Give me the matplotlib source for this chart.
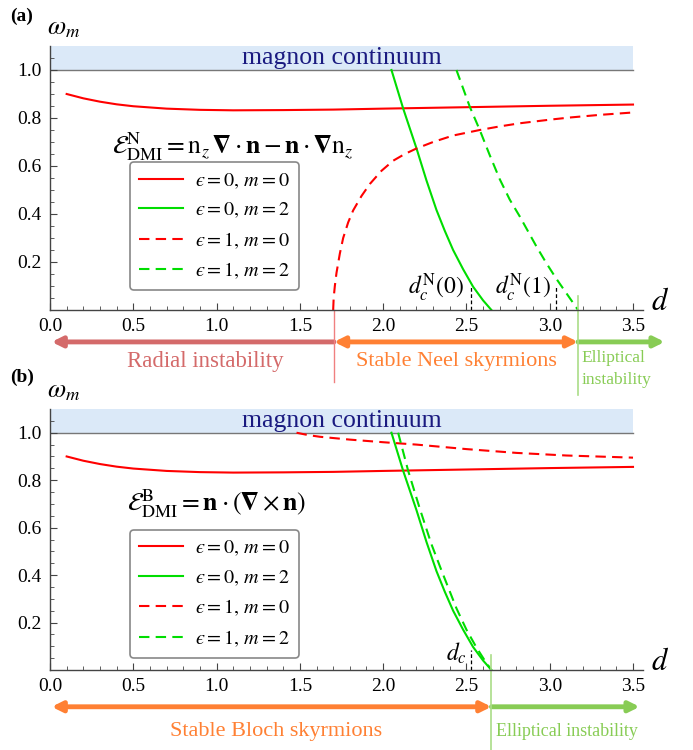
import numpy as np
import matplotlib
matplotlib.use('Agg')
import matplotlib.pyplot as plt
from matplotlib.patches import FancyArrowPatch

plt.rcParams['font.family'] = ['Liberation Serif', 'DejaVu Serif']
plt.rcParams['mathtext.fontset'] = 'stix'

# --- data ---
# eps=0, m=0 (same in both panels)
d_e0m0 = [0.1, 0.2, 0.3, 0.4, 0.5, 0.7, 0.9, 1.1, 1.4, 1.7, 2.0, 2.5, 3.0, 3.5]
w_e0m0 = [0.90, 0.882, 0.868, 0.857, 0.849, 0.839, 0.834, 0.832, 0.833, 0.835, 0.839, 0.845, 0.851, 0.856]
# eps=0, m=2 (same in both panels)
d_e0m2 = [2.05, 2.12, 2.20, 2.26, 2.32, 2.37, 2.42, 2.48, 2.54, 2.60, 2.65]
w_e0m2 = [1.0, 0.84, 0.674, 0.54, 0.417, 0.33, 0.25, 0.17, 0.097, 0.04, 0.0]
# Neel, eps=1
d_N_e1m0 = [1.70, 1.703, 1.71, 1.72, 1.74, 1.76, 1.79, 1.82, 1.87, 1.92, 1.99, 2.06, 2.13,
            2.20, 2.30, 2.42, 2.58, 2.70, 2.82, 3.0, 3.12, 3.3, 3.5]
w_N_e1m0 = [0.0, 0.05, 0.10, 0.155, 0.235, 0.30, 0.365, 0.415, 0.475, 0.525, 0.58, 0.622, 0.65,
            0.673, 0.700, 0.727, 0.750, 0.765, 0.778, 0.793, 0.802, 0.813, 0.823]
d_N_e1m2 = [2.44, 2.52, 2.58, 2.64, 2.70, 2.76, 2.82, 2.92, 2.98, 3.04, 3.10, 3.17]
w_N_e1m2 = [1.0, 0.847, 0.75, 0.645, 0.545, 0.46, 0.39, 0.265, 0.195, 0.13, 0.07, 0.0]
# Bloch, eps=1
d_B_e1m0 = [1.48, 1.55, 1.62, 1.8, 2.0, 2.2, 2.5, 2.8, 3.1, 3.5]
w_B_e1m0 = [1.0, 0.99, 0.983, 0.971, 0.96, 0.95, 0.931, 0.915, 0.904, 0.895]
d_B_e1m2 = [2.09, 2.15, 2.22, 2.29, 2.35, 2.44, 2.50, 2.56, 2.61, 2.65]
w_B_e1m2 = [1.0, 0.84, 0.68, 0.53, 0.42, 0.26, 0.17, 0.095, 0.04, 0.0]

labels = [r'$ϵ=0,\,m=0$', r'$ϵ=0,\,m=2$',
          r'$ϵ=1,\,m=0$', r'$ϵ=1,\,m=2$']

RED = '#ff0000'
GREEN = '#00dd00'
C_RAD = '#d46a6a'
C_ORA = '#ff8033'
C_ELL = '#88cc55'
DASH = (0, (5, 3))

fig = plt.figure(figsize=(6.93, 7.5), dpi=100)
ax1 = fig.add_axes([50/693, 1-310/750, 593/693, 264/750])
ax2 = fig.add_axes([50/693, 1-670/750, 593/693, 261/750])


def setup(ax):
    ax.set_xlim(0, 3.56)
    ax.set_ylim(0, 1.1)
    for s in ['top', 'right']:
        ax.spines[s].set_visible(False)
    for s in ['left', 'bottom']:
        ax.spines[s].set_color('#444444')
        ax.spines[s].set_linewidth(1.0)
    ax.set_xticks(np.arange(0, 3.51, 0.5))
    ax.set_xticks(np.arange(0, 3.56, 0.1), minor=True)
    ax.set_yticks([0.2, 0.4, 0.6, 0.8, 1.0])
    ax.set_yticks(np.arange(0.05, 1.1, 0.05), minor=True)
    ax.xaxis.set_major_formatter(plt.FuncFormatter(lambda v, p: f'{v:.1f}'))
    ax.yaxis.set_major_formatter(plt.FuncFormatter(lambda v, p: f'{v:.1f}'))
    ax.tick_params(which='major', direction='in', length=5, width=0.8,
                   color='#444444', labelsize=14, pad=6)
    ax.tick_params(which='minor', direction='in', length=3, width=0.6, color='#444444')
    ax.patch.set_alpha(0)
    # magnon continuum
    ax.fill_between([0, 3.5], 1.0, 1.1, color='#dbe9f8', lw=0, zorder=0)
    ax.plot([0, 3.5], [1.0, 1.0], color='#777777', lw=1.0, zorder=1)
    ax.text(1.75, 1.05, 'magnon continuum', color='#1a1a80', fontsize=18.5,
            ha='center', va='center')
    ax.text(0.08, 1.17, r'$\omega_m$', fontsize=19, ha='center', va='center',
            clip_on=False)
    ax.text(3.66, 0.03, r'$d$', fontsize=22, ha='center', va='center', clip_on=False)


def arrow(ax, x0, x1, y, color, style):
    a = FancyArrowPatch((x0, y), (x1, y), arrowstyle=style, mutation_scale=15,
                        color=color, lw=3.5, clip_on=False, shrinkA=0, shrinkB=0)
    ax.add_patch(a)


def legend(ax, h, y):
    leg = ax.legend(h, labels, loc='upper left', bbox_to_anchor=(0.48, y),
                    bbox_transform=ax.transData, fontsize=14.5, handlelength=2.2,
                    fancybox=True, edgecolor='#888888', framealpha=1,
                    labelspacing=0.5, borderpad=0.45, borderaxespad=0,
                    handletextpad=0.6)
    leg.get_frame().set_linewidth(1.2)


setup(ax1)
setup(ax2)

# ---- panel (a): Neel ----
h = []
h += ax1.plot(d_e0m0, w_e0m0, color=RED, lw=1.5)
h += ax1.plot(d_e0m2, w_e0m2, color=GREEN, lw=1.5)
h += ax1.plot(d_N_e1m0, w_N_e1m0, color=RED, lw=1.5, ls=DASH)
h += ax1.plot(d_N_e1m2, w_N_e1m2, color=GREEN, lw=1.5, ls=DASH)
ax1.text(0.37, 0.68,
         r'$\mathcal{E}^{\rm N}_{\rm DMI}={\rm n}_z\,𝛁\cdot\mathbf{n}-\mathbf{n}\cdot𝛁{\rm n}_z$',
         fontsize=18.5, ha='left', va='center')
legend(ax1, h, 0.615)

ax1.plot([2.53, 2.53], [0, 0.095], color='k', lw=0.9, ls=(0, (3, 2)))
ax1.plot([3.04, 3.04], [0, 0.095], color='k', lw=0.9, ls=(0, (3, 2)))
ax1.text(2.49, 0.092, r'$d_c^{\rm N}(0)$', fontsize=17, ha='right', va='center')
ax1.text(3.01, 0.092, r'$d_c^{\rm N}(1)$', fontsize=17, ha='right', va='center')

ax1.plot([1.705, 1.705], [0, -0.30], color='#f08080', lw=1.0, clip_on=False)
ax1.plot([3.17, 3.17], [0.06, -0.355], color='#aadd88', lw=1.2, clip_on=False)
arrow(ax1, 1.705, 0.01, -0.133, C_RAD, '-|>')
arrow(ax1, 1.705, 3.17, -0.133, C_ORA, '<|-|>')
arrow(ax1, 3.17, 3.69, -0.133, C_ELL, '-|>')
ax1.text(0.93, -0.215, 'Radial instability', color=C_RAD, fontsize=16.5,
         ha='center', va='center', clip_on=False)
ax1.text(2.44, -0.215, 'Stable Neel skyrmions', color=C_ORA, fontsize=16,
         ha='center', va='center', clip_on=False)
ax1.text(3.19, -0.20, 'Elliptical', color=C_ELL, fontsize=12.5,
         ha='left', va='center', clip_on=False)
ax1.text(3.19, -0.29, 'instability', color=C_ELL, fontsize=12.5,
         ha='left', va='center', clip_on=False)

# ---- panel (b): Bloch ----
h = []
h += ax2.plot(d_e0m0, w_e0m0, color=RED, lw=1.5)
h += ax2.plot(d_e0m2, w_e0m2, color=GREEN, lw=1.5)
h += ax2.plot(d_B_e1m0, w_B_e1m0, color=RED, lw=1.5, ls=DASH)
h += ax2.plot(d_B_e1m2, w_B_e1m2, color=GREEN, lw=1.5, ls=DASH)
ax2.text(0.46, 0.70,
         r'$\mathcal{E}^{\rm B}_{\rm DMI}=\mathbf{n}\cdot(𝛁\times\mathbf{n})$',
         fontsize=18.5, ha='left', va='center')
legend(ax2, h, 0.59)

ax2.plot([2.53, 2.53], [0, 0.085], color='k', lw=0.9, ls=(0, (3, 2)))
ax2.text(2.50, 0.07, r'$d_c$', fontsize=17, ha='right', va='center')

ax2.plot([2.65, 2.65], [0.063, -0.34], color='#aadd88', lw=1.2, clip_on=False)
arrow(ax2, 0.01, 2.65, -0.155, C_ORA, '<|-|>')
arrow(ax2, 2.65, 3.54, -0.155, C_ELL, '-|>')
ax2.text(1.36, -0.258, 'Stable Bloch skyrmions', color=C_ORA, fontsize=16,
         ha='center', va='center', clip_on=False)
ax2.text(2.68, -0.26, 'Elliptical instability', color=C_ELL, fontsize=13,
         ha='left', va='center', clip_on=False)

fig.text(10/693, 1-16/750, '(a)', fontsize=14, fontweight='bold', ha='left', va='center')
fig.text(10/693, 1-377/750, '(b)', fontsize=14, fontweight='bold', ha='left', va='center')

fig.savefig('out.png', dpi=100)
